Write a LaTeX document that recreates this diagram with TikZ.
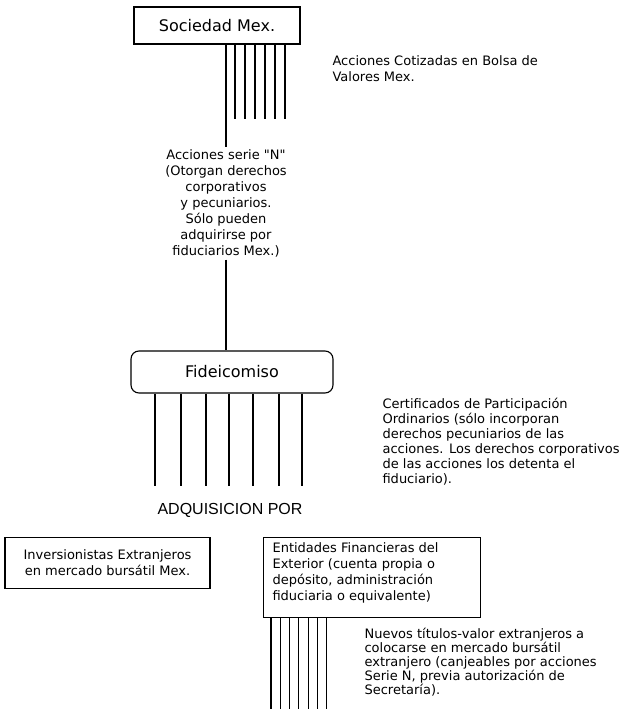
\documentclass[tikz,border=0pt]{standalone}
\usepackage{fontspec}
\newfontfamily\plainfamily{DejaVu Sans}
\newfontfamily\helvfamily{Liberation Sans}
\usetikzlibrary{positioning}

\newcommand{\bodyfont}{\plainfamily\fontsize{13}{14.5}\selectfont}
\newcommand{\widefont}{\plainfamily\fontsize{13}{16}\selectfont}
\newcommand{\titlefont}{\plainfamily\fontsize{16}{18}\selectfont}
\newcommand{\adqfont}{\helvfamily\fontsize{16}{18}\selectfont}

\tikzset{
  box/.style={draw, inner sep=0pt, font=\titlefont},
  txt/.style={inner sep=2pt, font=\bodyfont}
}

\begin{document}
\begin{tikzpicture}[x=1pt, y=-1pt, line width=1.1pt]

\useasboundingbox (0,0) rectangle (632,709);

\pgfmathsetmacro{\shortlen}{74}
\pgfmathsetmacro{\stemlen}{92}

% Top box and its shares:
\node[box, minimum width=166pt, minimum height=37pt] (sociedad) at (217,25.5) {Sociedad Mex.};
\node[txt, anchor=north west, align=left, font=\widefont] (cotizadas) at (330,53) {Acciones Cotizadas en Bolsa de\\Valores Mex.};
\foreach \dx in {18,28,...,68}
  \draw ([xshift=\dx]sociedad.south) -- ++(0,\shortlen);

\node[txt, anchor=north, align=center, font=\widefont] (serieN) at (226,147)
  {Acciones serie "N"\\(Otorgan derechos\\corporativos\\y pecuniarios.\\Sólo pueden\\adquirirse por\\fiduciarios Mex.)};
\draw (sociedad.south -| serieN.north) -- (serieN.north);

% Trust:
\node[box, rounded corners=8pt, minimum width=202pt, minimum height=42pt] (fideicomiso) at (232,372) {Fideicomiso};
\draw (serieN.south) -- (serieN.south |- fideicomiso.north);
\foreach \dx in {-77,-51,-26,-3,21,47,70}
  \draw ([xshift=\dx]fideicomiso.south) -- ++(0,\stemlen);

\node[txt, anchor=north west, align=left, font=\plainfamily\fontsize{13}{15}\selectfont] (certificados) at (380,396)
  {Certificados de Participación\\Ordinarios (sólo incorporan\\derechos pecuniarios de las\\acciones. Los derechos corporativos\\de las acciones los detenta el\\fiduciario).};

\node[font=\adqfont] (adquisicion) at (230,510) {ADQUISICION POR};

% Buyers:
\node[box, font=\widefont, align=center, minimum width=205pt, minimum height=51pt] (inversionistas) at (107.5,563)
  {Inversionistas Extranjeros\\en mercado bursátil Mex.};
\node[box, minimum width=217pt, minimum height=80pt, anchor=north west] (entidades) at (263,537) {};
\node[txt, anchor=north west, align=left, font=\widefont] (entidadesTxt) at ([shift={(7,3)}]entidades.north west)
  {Entidades Financieras del\\Exterior (cuenta propia o\\depósito, administración\\fiduciaria o equivalente)};
\foreach \i in {0,...,6}
  \draw ([xshift={8+9.3*\i}]entidades.south west) -- ++(0,\stemlen);

\node[txt, anchor=north west, align=left, font=\plainfamily\fontsize{13}{14}\selectfont] (nuevos) at (362,626)
  {Nuevos títulos-valor extranjeros a\\colocarse en mercado bursátil\\extranjero (canjeables por acciones\\Serie N, previa autorización de\\Secretaría).};

\end{tikzpicture}
\end{document}
